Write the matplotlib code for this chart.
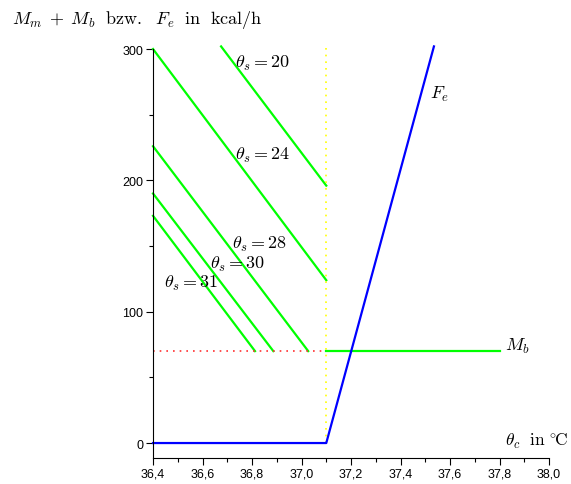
import matplotlib
matplotlib.use("Agg")
import matplotlib.pyplot as plt
from matplotlib.ticker import MultipleLocator, FuncFormatter

plt.rcParams["mathtext.fontset"] = "cm"

# skin temperature curves: theta_s and their end points (theta_c, kcal/h)
theta_s = [20, 24, 28, 30, 31]
seg_x0 = [36.675, 36.40, 36.40, 36.40, 36.40]
seg_y0 = [302, 300, 226, 190, 173]
seg_x1 = [37.10, 37.10, 37.027, 36.886, 36.812]
seg_y1 = [196, 124, 70, 70, 70]

# basal metabolism and evaporative heat loss
theta_crit = 37.1
M_b = 70
M_b_end = 37.8
Fe_x = [36.4, 37.1, 37.535]
Fe_y = [0, 0, 302]

# label anchors (left edge, vertical centre)
label_pos = {20: (36.73, 290), 24: (36.73, 220), 28: (36.72, 152),
             30: (36.63, 137), 31: (36.445, 122)}

fig = plt.figure(figsize=(5.71, 4.85), dpi=100)
ax = fig.add_axes([0.268, 0.0536, 0.6935, 0.8703])
ax.set_xlim(36.4, 38.0)
ax.set_ylim(-11.4, 310)

green = "#00ff00"
for th, x0, y0, x1, y1 in zip(theta_s, seg_x0, seg_y0, seg_x1, seg_y1):
    ax.plot([x0, x1], [y0, y1], color=green, lw=1.6, clip_on=False)
    lx, ly = label_pos[th]
    ax.text(lx, ly, r"$\theta_s{=}%d$" % th, fontsize=13, va="center", ha="left")

# helper lines
ax.plot([36.4, theta_crit], [M_b, M_b], color="#ff3030", lw=1.2, ls=(0, (1, 3)))
ax.plot([theta_crit, theta_crit], [0, 304], color="#ffff00", lw=1.2, ls=(0, (1, 3)),
        clip_on=False)

ax.plot([theta_crit, M_b_end], [M_b, M_b], color=green, lw=1.6)
ax.plot(Fe_x, Fe_y, color="#0000ff", lw=1.6, clip_on=False)

ax.text(37.52, 266, r"$F_e$", fontsize=13, va="center", ha="left")
ax.text(37.822, 74, r"$M_b$", fontsize=13, va="center", ha="left")
ax.text(37.822, 2, r"$\theta_c\ \ \mathrm{in}\ {}^{\circ}\!\mathrm{C}$", fontsize=12.5,
        va="center", ha="left", clip_on=False)

fig.text(0.021, 0.958,
         r"$M_m\;+\;M_b\ \ \mathrm{bzw.}\ \ F_e\ \ \mathrm{in\ \ kcal/h}$",
         fontsize=13, va="center", ha="left")

# axes styling
for side in ("top", "right"):
    ax.spines[side].set_visible(False)
ax.spines["left"].set_bounds(-11.4, 300)
ax.spines["bottom"].set_bounds(36.4, 38.0)

ax.xaxis.set_major_locator(MultipleLocator(0.2))
ax.xaxis.set_minor_locator(MultipleLocator(0.1))
ax.yaxis.set_major_locator(MultipleLocator(100))
ax.yaxis.set_minor_locator(MultipleLocator(50))
ax.xaxis.set_major_formatter(FuncFormatter(lambda v, p: f"{v:.1f}".replace(".", ",")))
ax.yaxis.set_major_formatter(FuncFormatter(lambda v, p: f"{v:.0f}"))
ax.set_yticks([0, 100, 200, 300])
ax.tick_params(which="major", length=5, width=0.8, labelsize=9, pad=2)
ax.tick_params(which="minor", length=3, width=0.8)
for lab in ax.get_xticklabels() + ax.get_yticklabels():
    lab.set_fontfamily("Liberation Sans")

fig.savefig("out.png", dpi=100)
